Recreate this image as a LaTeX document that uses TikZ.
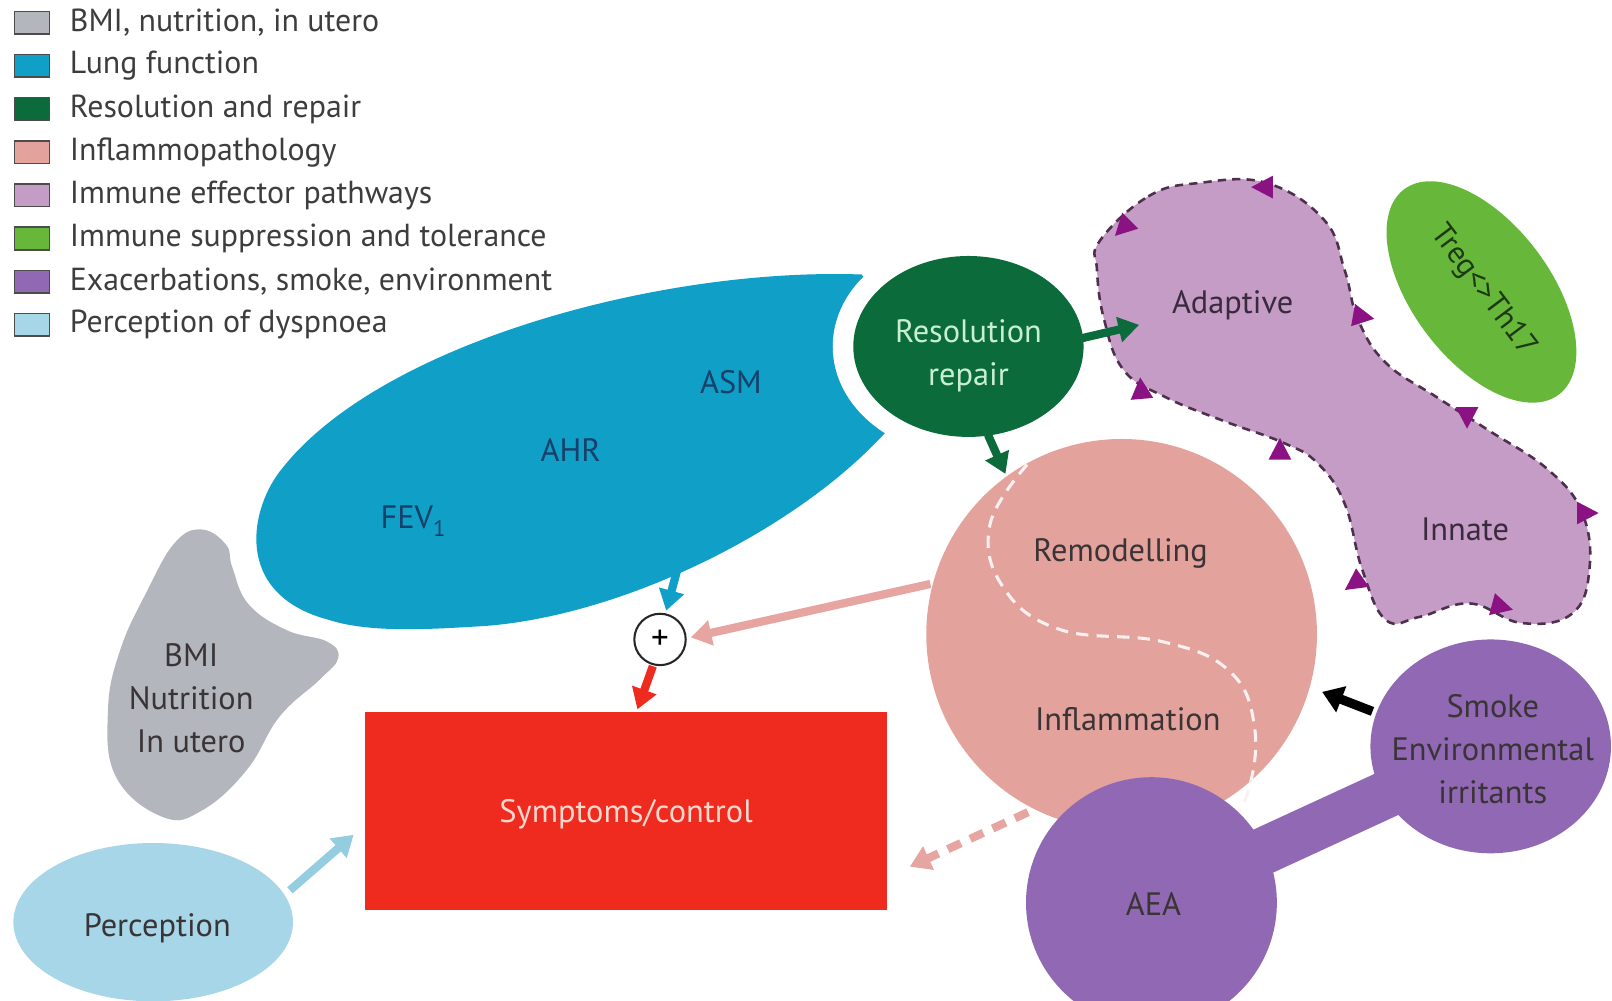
\documentclass[tikz,border=0pt]{standalone}
\usepackage{fontspec}
\setmainfont{PT Sans}
\usetikzlibrary{arrows.meta,shapes.geometric}
\definecolor{lungblue}{HTML}{0F9FC7}
\definecolor{resgreen}{HTML}{0B6B3B}
\definecolor{resgtext}{HTML}{C9EFD2}
\definecolor{inflpink}{HTML}{E3A29C}
\definecolor{immlav}{HTML}{C59CC6}
\definecolor{tregreen}{HTML}{67B83A}
\definecolor{exapurple}{HTML}{9068B3}
\definecolor{percblue}{HTML}{A6D6E7}
\definecolor{percarrow}{HTML}{94CDE0}
\definecolor{bmigrey}{HTML}{B3B7BD}
\definecolor{sympred}{HTML}{EE2B1E}
\definecolor{tripurple}{HTML}{8B1283}
\definecolor{txtdark}{HTML}{3A3436}
\definecolor{legtext}{HTML}{3D3D3D}
\definecolor{lungtxt}{HTML}{17406A}
\definecolor{blobline}{HTML}{4E304E}
\definecolor{pinkarrow}{HTML}{E6A5A1}
\definecolor{symptxt}{HTML}{FCD9CF}
\definecolor{lavtxt}{HTML}{3A2A3E}
\definecolor{tregtxt}{HTML}{1E3A14}
\begin{document}
\begin{tikzpicture}[x=1pt,y=-1pt,
  every node/.style={font=\fontsize{31.5}{38}\selectfont, inner sep=0pt, outer sep=0pt},
  legsq/.style={rectangle, draw=black!70, line width=1.5pt, minimum width=34pt, minimum height=22pt},
  legtxt/.style={anchor=west, text=legtext, font=\fontsize{31}{38}\selectfont},
  lbl/.style={text=txtdark, align=center},
  multi/.style={font=\fontsize{31.5}{42}\selectfont},
  arr/.style={line width=8pt, -{Triangle[length=20pt,width=24pt]}},
  tri/.style={fill=tripurple},
]
\useasboundingbox (0,0) rectangle (1568,973);

% ---------- legend
\node[legsq, fill=bmigrey]   (sq1) at (31,22)  {};
\node[legsq, fill=lungblue]  (sq2) at (31,64)  {};
\node[legsq, fill=resgreen]  (sq3) at (31,106) {};
\node[legsq, fill=inflpink]  (sq4) at (31,148) {};
\node[legsq, fill=immlav]    (sq5) at (31,190) {};
\node[legsq, fill=tregreen]  (sq6) at (31,232) {};
\node[legsq, fill=exapurple] (sq7) at (31,274) {};
\node[legsq, fill=percblue]  (sq8) at (31,316) {};
\node[legtxt] (lt1) at (68,22)  {BMI, nutrition, in utero};
\node[legtxt] (lt2) at (68,64)  {Lung function};
\node[legtxt] (lt3) at (68,106) {Resolution and repair};
\node[legtxt] (lt4) at (68,148) {Inflammopathology};
\node[legtxt] (lt5) at (68,190) {Immune effector pathways};
\node[legtxt] (lt6) at (68,232) {Immune suppression and tolerance};
\node[legtxt] (lt7) at (68,274) {Exacerbations, smoke, environment};
\node[legtxt] (lt8) at (68,316) {Perception of dyspnoea};

% ---------- lung function shape
\fill[lungblue] (838,267) .. controls (640,260) and (370,335) .. (275,455)
  .. controls (243,493) and (225,578) .. (320,603)
  .. controls (360,616) and (420,612) .. (470,609)
  .. controls (600,600) and (770,520) .. (861,421) -- (905,340) -- cycle;
\node[text=lungtxt] (asm) at (711,372) {ASM};
\node[text=lungtxt] (ahr) at (555,438) {AHR};
\node[text=lungtxt] (fev) at (402,507) {FEV\textsubscript{1}};

% ---------- resolution / repair
\fill[white] (942,337) ellipse [x radius=132, y radius=107];
\node[ellipse, fill=resgreen, minimum width=224pt, minimum height=176pt] (res) at (942,337) {};
\node[text=resgtext, align=center, multi] (restxt) at (942,346) {Resolution\\repair};

% ---------- immune effector blob
\filldraw[fill=immlav, draw=blobline, line width=2.5pt, dash pattern=on 8pt off 6pt]
  plot[smooth cycle, tension=0.7] coordinates {(1070,234) (1117,191) (1166,178) (1232,178) (1288,214) (1308,263) (1321,311) (1348,353) (1397,386) (1447,418) (1506,457) (1539,499) (1546,554) (1529,597) (1480,606) (1430,587) (1381,600) (1348,603) (1325,554) (1308,490) (1282,451) (1249,431) (1189,409) (1133,386) (1093,360) (1074,311) (1067,262)};
\fill[tri, shift={(1229,182)}, rotate=180] (12,0) -- (-9,11) -- (-9,-11) -- cycle;
\fill[tri, shift={(1093,221)}, rotate=225] (12,0) -- (-9,11) -- (-9,-11) -- cycle;
\fill[tri, shift={(1325,308)}, rotate=-10] (12,0) -- (-9,11) -- (-9,-11) -- cycle;
\fill[tri, shift={(1110,379)}, rotate=95]  (12,0) -- (-9,11) -- (-9,-11) -- cycle;
\fill[tri, shift={(1245,438)}, rotate=90]  (12,0) -- (-9,11) -- (-9,-11) -- cycle;
\fill[tri, shift={(1427,405)}, rotate=-90] (12,0) -- (-9,11) -- (-9,-11) -- cycle;
\fill[tri, shift={(1543,499)}, rotate=0]   (12,0) -- (-9,11) -- (-9,-11) -- cycle;
\fill[tri, shift={(1318,567)}, rotate=215] (12,0) -- (-9,11) -- (-9,-11) -- cycle;
\fill[tri, shift={(1460,590)}, rotate=-15] (12,0) -- (-9,11) -- (-9,-11) -- cycle;
\node[text=lavtxt] (adaptive) at (1199,297) {Adaptive};
\node[text=lavtxt] (innate) at (1425,515) {Innate};

% ---------- Treg ellipse
\node[ellipse, fill=tregreen, minimum width=250pt, minimum height=134pt, rotate=-53] (treg) at (1441,284) {};
\node[text=tregtxt, rotate=-53, font=\fontsize{30}{36}\selectfont] (tregtxt) at (1443,283) {Treg<>Th17};

% ---------- inflammopathology circle
\node[circle, fill=inflpink, minimum size=380pt] (infl) at (1091,617) {};
\draw[white!85!inflpink, line width=3pt, dash pattern=on 12pt off 8pt]
  plot[smooth, tension=0.7] coordinates {(999,452) (963,510) (975,570) (1030,612) (1130,624) (1195,652) (1220,705) (1214,770) (1190,808)};
\node[lbl] (remod) at (1090,538) {Remodelling};
\node[lbl] (inflam) at (1097,700) {Inflammation};

% ---------- exacerbations
\coordinate (aeac) at (1120,878);
\coordinate (smokec) at (1450,726);
\draw[exapurple, line width=46pt] (aeac) -- (smokec);
\node[circle, fill=exapurple, minimum size=244pt] (aea) at (aeac) {};
\node[ellipse, fill=exapurple, minimum width=234pt, minimum height=208pt] (smoke) at (smokec) {};
\node[lbl] (aeatxt) at (1122,879) {AEA};
\node[lbl, multi] (smoketxt) at (1452,729) {Smoke\\Environmental\\irritants};

% ---------- BMI blob
\fill[bmigrey] plot[smooth cycle, tension=0.7] coordinates {(196,515) (220,530) (226,552) (242,588) (279,613) (318,624) (329,640) (311,661) (272,697) (240,749) (197,788) (159,795) (113,756) (105,691) (117,632) (143,575) (170,528)};
\node[lbl, multi] (bmitxt) at (186,679) {BMI\\Nutrition\\In utero};

% ---------- perception
\node[ellipse, fill=percblue, minimum width=272pt, minimum height=154pt] (perc) at (149,897) {};
\node[lbl] (perctxt) at (153,903) {Perception};

% ---------- symptoms
\node[rectangle, fill=sympred, minimum width=508pt, minimum height=192pt] (symp) at (609,789) {};
\node[text=symptxt] (symptxt) at (609,792) {Symptoms/control};

% ---------- plus
\node[circle, draw=black!85, line width=2pt, fill=white, minimum size=50pt, font=\fontsize{34}{34}\selectfont] (plus) at (642,622) {+};

% ---------- connector end points
\coordinate (blueS) at (661,546);  \coordinate (blueE) at (648,594);
\coordinate (redS) at (635,648);   \coordinate (redE) at (620,690);
\coordinate (pinkS) at (905,568);  \coordinate (pinkE) at (672,620);
\coordinate (dpS) at (1000,790);   \coordinate (dpE) at (885,843);
\coordinate (grS) at (1048,330);   \coordinate (grE) at (1108,316);
\coordinate (gdS) at (961,423);    \coordinate (gdE) at (978,461);
\coordinate (lbS) at (282,866);    \coordinate (lbE) at (344,812);
\coordinate (bkS) at (1335,692);   \coordinate (bkE) at (1286,673);

\draw[arr, lungblue] (blueS) -- (blueE);
\draw[arr, sympred] (redS) -- (redE);
\draw[arr, pinkarrow] (pinkS) -- (pinkE);
\draw[arr, pinkarrow, dash pattern=on 14pt off 10pt] (dpS) -- (dpE);
\draw[arr, resgreen] (grS) -- (grE);
\draw[arr, resgreen] (gdS) -- (gdE);
\draw[arr, percarrow] (lbS) -- (lbE);
\draw[line width=9pt, black, -{Triangle[length=20pt,width=26pt]}] (bkS) -- (bkE);
\end{tikzpicture}
\end{document}
